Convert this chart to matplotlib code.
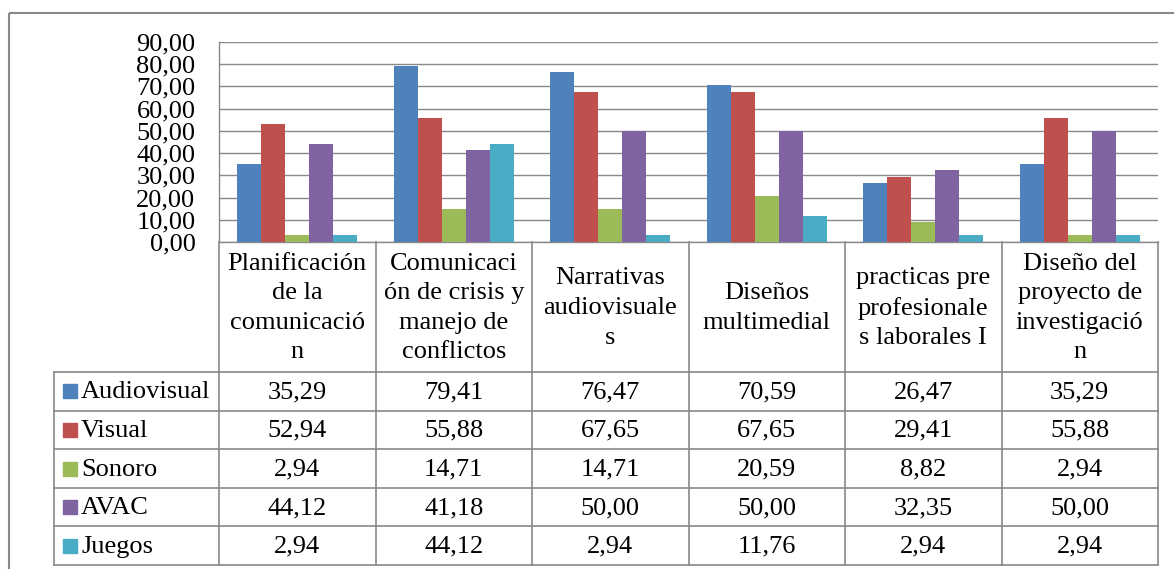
import matplotlib.pyplot as plt
from matplotlib.patches import Rectangle
from matplotlib.ticker import FuncFormatter

plt.rcParams['font.family'] = ['Liberation Serif', 'DejaVu Serif']

categorias = ["Planificación\nde la\ncomunicació\nn",
              "Comunicaci\nón de crisis y\nmanejo de\nconflictos",
              "Narrativas\naudiovisuale\ns",
              "Diseños\nmultimedial",
              "practicas pre\nprofesionale\ns laborales I",
              "Diseño del\nproyecto de\ninvestigació\nn"]
series = ["Audiovisual", "Visual", "Sonoro", "AVAC", "Juegos"]
audiovisual = [35.29, 79.41, 76.47, 70.59, 26.47, 35.29]
visual = [52.94, 55.88, 67.65, 67.65, 29.41, 55.88]
sonoro = [2.94, 14.71, 14.71, 20.59, 8.82, 2.94]
avac = [44.12, 41.18, 50.00, 50.00, 32.35, 50.00]
juegos = [2.94, 44.12, 2.94, 11.76, 2.94, 2.94]
valores = [audiovisual, visual, sonoro, avac, juegos]
colores = ["#4F81BD", "#C0504D", "#9BBB59", "#8064A2", "#4BACC6"]
yticks = [0, 10, 20, 30, 40, 50, 60, 70, 80, 90]

gris = "#898989"
fs = 19
W, H = 1174, 569

def coma(v, pos=None):
    return f"{v:.2f}".replace(".", ",")

fig = plt.figure(figsize=(W / 100, H / 100), dpi=100)

# pixel layout of the Excel chart
x0, x1 = 219, 1158
ytop, ybot = 42, 242
cw = (x1 - x0) / len(categorias)

ax = fig.add_axes([x0 / W, 1 - ybot / H, (x1 - x0) / W, (ybot - ytop) / H])
w = 1 / 6.5
for j, (nombre, vals) in enumerate(zip(series, valores)):
    xs = [i + (j - 2) * w for i in range(len(categorias))]
    ax.bar(xs, vals, width=w, color=colores[j], zorder=3)
ax.set_xlim(-0.5, len(categorias) - 0.5)
ax.set_ylim(0, 90)
ax.set_yticks(yticks)
ax.yaxis.set_major_formatter(FuncFormatter(coma))
ax.set_xticks([])
ax.tick_params(axis="y", length=0, pad=17, labelsize=fs)
ax.grid(axis="y", color=gris, linewidth=1.0, zorder=0)
for s in ["top", "right"]:
    ax.spines[s].set_visible(False)
for s in ["left", "bottom"]:
    ax.spines[s].set_color(gris)
    ax.spines[s].set_linewidth(1.0)

# overlay for the data table (pixel coordinates)
ov = fig.add_axes([0, 0, 1, 1], zorder=5)
ov.set_xlim(0, W)
ov.set_ylim(H, 0)
ov.axis("off")
ov.patch.set_alpha(0)

ov.add_patch(Rectangle((9, 13), W + 20, H + 20, fill=False, edgecolor=gris, linewidth=1.5))

cat_bot = 372
rh = (565 - cat_bot) / len(series)
leg_x = 54
tb = cat_bot + rh * len(series)

# header cells
for i in range(len(categorias) + 1):
    ov.plot([x0 + i * cw] * 2, [ybot, tb], color=gris, linewidth=1.2)
for i, c in enumerate(categorias):
    ov.text(x0 + (i + 0.5) * cw, (ybot + cat_bot) / 2 + 1, c, ha="center", va="center",
            fontsize=fs, linespacing=1.45)

# rows
ov.plot([leg_x, leg_x], [cat_bot, tb], color=gris, linewidth=1.2)
for r in range(len(series) + 1):
    ov.plot([leg_x, x1], [cat_bot + r * rh] * 2, color=gris, linewidth=1.2)
for r, (nombre, vals) in enumerate(zip(series, valores)):
    yc = cat_bot + (r + 0.5) * rh
    ov.add_patch(Rectangle((63, yc - 7), 14, 14, color=colores[r]))
    ov.text(81, yc + 1, nombre, ha="left", va="center", fontsize=fs)
    for i, v in enumerate(vals):
        ov.text(x0 + (i + 0.5) * cw, yc + 1, coma(v), ha="center", va="center", fontsize=fs)

fig.savefig("out.png", dpi=100)
